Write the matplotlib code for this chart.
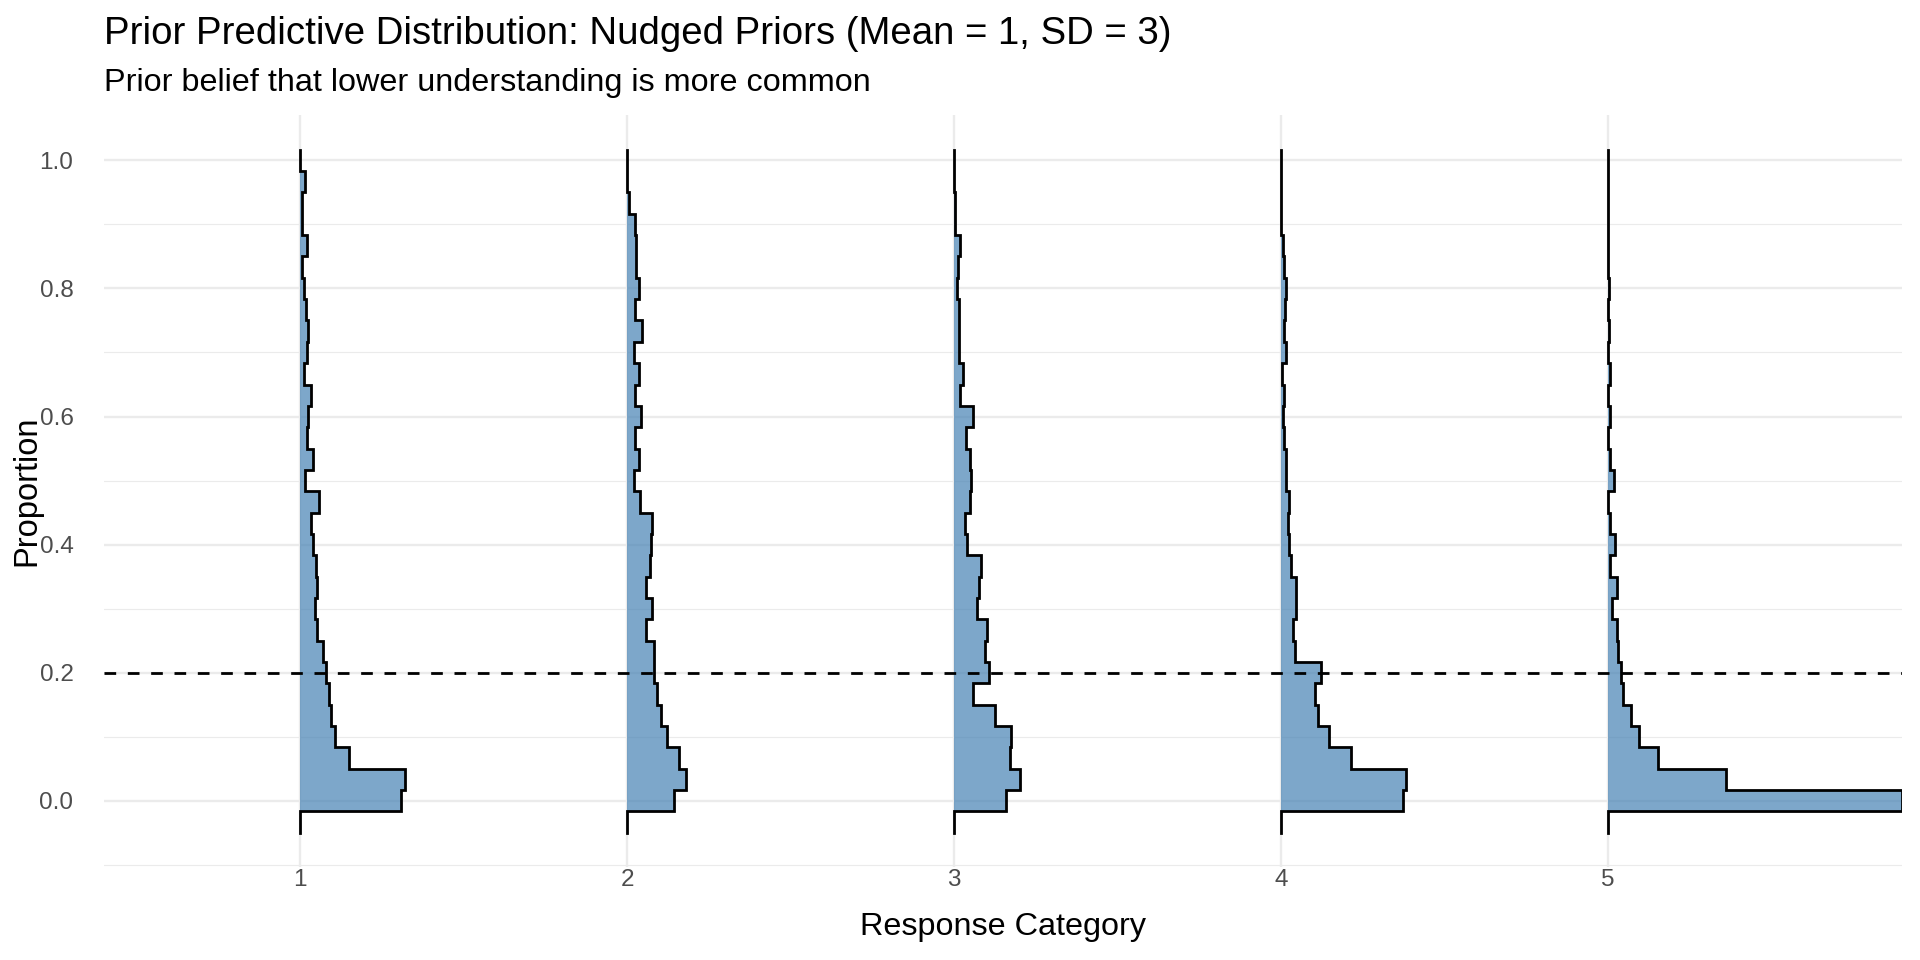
import numpy as np
import matplotlib.pyplot as plt

plt.rcParams['font.family'] = ['Liberation Sans', 'DejaVu Sans']

categories = [1, 2, 3, 4, 5]

# histogram of simulated proportions: bins of width 1/30 centred on 0, 1/30, ..., 1
bin_width = 1 / 30
bin_centers = np.arange(31) * bin_width

# relative bin heights (tallest bin over all categories = 1), lowest bin first
heights_cat1 = [0.342, 0.358, 0.167, 0.117, 0.105, 0.099, 0.088, 0.078, 0.058, 0.051,
                0.058, 0.054, 0.044, 0.037, 0.065, 0.017, 0.044, 0.024, 0.027, 0.037,
                0.013, 0.024, 0.027, 0.020, 0.013, 0.006, 0.024, 0.006, 0.006, 0.017,
                0.0]
heights_cat2 = [0.158, 0.201, 0.177, 0.137, 0.116, 0.101, 0.093, 0.090, 0.065, 0.084,
                0.065, 0.078, 0.080, 0.084, 0.044, 0.024, 0.042, 0.027, 0.046, 0.027,
                0.039, 0.024, 0.052, 0.027, 0.039, 0.031, 0.029, 0.027, 0.005, 0.0,
                0.0]
heights_cat3 = [0.176, 0.223, 0.189, 0.195, 0.138, 0.065, 0.119, 0.107, 0.113, 0.079,
                0.085, 0.091, 0.045, 0.036, 0.053, 0.059, 0.053, 0.042, 0.065, 0.019,
                0.031, 0.017, 0.017, 0.017, 0.012, 0.015, 0.019, 0.005, 0.005, 0.0,
                0.0]
heights_cat4 = [0.415, 0.424, 0.240, 0.163, 0.126, 0.116, 0.137, 0.048, 0.041, 0.050,
                0.053, 0.036, 0.029, 0.024, 0.029, 0.016, 0.018, 0.010, 0.008, 0.012,
                0.005, 0.019, 0.010, 0.014, 0.018, 0.011, 0.007, 0.0, 0.0, 0.0,
                0.0]
heights_cat5 = [1.000, 0.401, 0.169, 0.107, 0.078, 0.053, 0.044, 0.036, 0.031, 0.016,
                0.032, 0.008, 0.025, 0.008, 0.002, 0.022, 0.008, 0.002, 0.008, 0.002,
                0.008, 0.002, 0.005, 0.002, 0.004, 0.0, 0.0, 0.0, 0.0, 0.0,
                0.0]
all_heights = [heights_cat1, heights_cat2, heights_cat3, heights_cat4, heights_cat5]

reference_line = 0.2
title = "Prior Predictive Distribution: Nudged Priors (Mean = 1, SD = 3)"
subtitle = "Prior belief that lower understanding is more common"
y_ticks = [0.0, 0.2, 0.4, 0.6, 0.8, 1.0]


def slab_outline(heights):
    # one empty bin below the first one, like the histogram breaks in the original
    edges = np.concatenate([[bin_centers[0] - 1.5 * bin_width],
                            bin_centers - bin_width / 2,
                            [bin_centers[-1] + bin_width / 2]])
    hs = np.concatenate([[0.0], heights])
    xs, ys = [0.0], [edges[0]]
    for i, h in enumerate(hs):
        xs += [h, h]
        ys += [edges[i], edges[i + 1]]
    xs.append(0.0)
    ys.append(edges[-1])
    return np.array(xs), np.array(ys), edges


W, H = 1920, 960
fig = plt.figure(figsize=(W / 100, H / 100), dpi=100)
left, right, top, bottom = 104, 1902, 115.5, 867
ax = fig.add_axes([left / W, 1 - bottom / H, (right - left) / W, (bottom - top) / H])

scale = 0.9
slab_color = '#4682B4'
max_x = 0
for c, hs in zip(categories, all_heights):
    xs, ys, edges = slab_outline(np.array(hs))
    ax.fill_betweenx(ys, c, c + scale * xs, color=slab_color, alpha=0.7, lw=0, zorder=2)
    ax.plot(c + scale * xs, ys, color='black', lw=2.0, zorder=3, solid_joinstyle='miter')
    max_x = max(max_x, c + scale * xs.max())

ax.axhline(reference_line, color='black', lw=2.0, linestyle=(0, (4.2, 4.2)), zorder=4)

# ggplot-like limits: discrete expansion of 0.6, continuous 5%
ax.set_xlim(min(categories) - 0.6, max(max(categories) + 0.6, max_x))
y_lo, y_hi = edges[0], edges[-1]
pad = 0.05 * (y_hi - y_lo)
ax.set_ylim(y_lo - pad, y_hi + pad)

ax.set_xticks(categories)
ax.set_xticklabels([str(c) for c in categories])
ax.set_yticks(y_ticks)
ax.set_yticklabels([f"{v:.1f}" for v in y_ticks])
ax.set_yticks(np.arange(-0.1, 1.0, 0.2), minor=True)

ax.grid(True, which='major', color='#EBEBEB', lw=1.7, zorder=0)
ax.grid(True, which='minor', axis='y', color='#EBEBEB', lw=0.85, zorder=0)
ax.set_axisbelow(True)
for s in ax.spines.values():
    s.set_visible(False)
ax.tick_params(which='both', length=0, labelsize=17.5, labelcolor='#4D4D4D')
ax.tick_params(axis='x', pad=1.5)
ax.tick_params(axis='y', pad=22)

# axis titles and headings, placed in figure pixels
fig.text((left + right) / 2 / W, 1 - 927 / H, "Response Category", fontsize=23.3,
         ha='center', va='center')
fig.text(27 / W, 1 - (top + bottom) / 2 / H, "Proportion", fontsize=23.5,
         rotation=90, ha='center', va='center')
fig.text(left / W, 1 - 34 / H, title, fontsize=27.6, va='center', ha='left')
fig.text(left / W, 1 - 83 / H, subtitle, fontsize=23.3, va='center', ha='left')

fig.savefig('out.png', dpi=100)
